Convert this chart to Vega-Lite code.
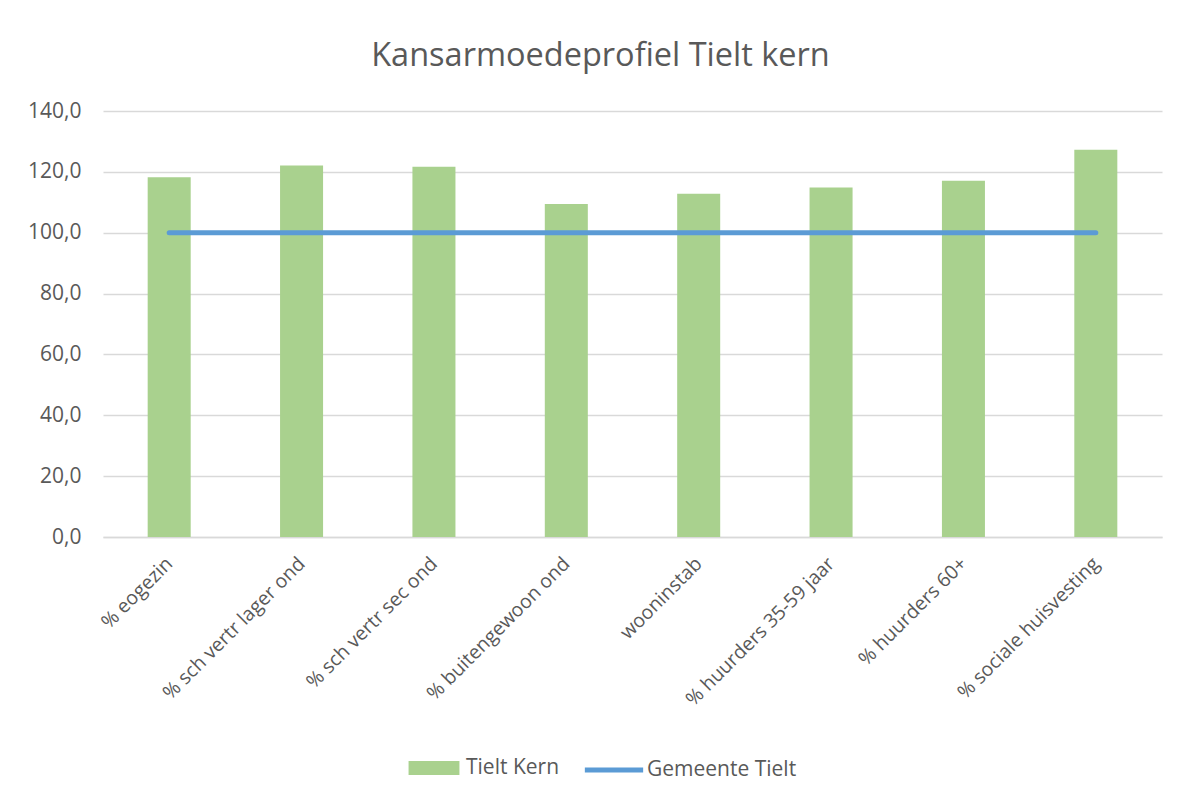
{
  "$schema": "https://vega.github.io/schema/vega-lite/v6.json",
  "autosize": "none",
  "width": 1059,
  "height": 426,
  "padding": {"left": 103, "top": 111, "right": 19, "bottom": 262},
  "background": "white",
  "title": {
    "text": "Kansarmoedeprofiel Tielt kern",
    "fontSize": 32.5,
    "font": "Open Sans",
    "fontWeight": "normal",
    "color": "#595959",
    "anchor": "middle",
    "dx": -32,
    "offset": 28
  },
  "data": {
    "values": [
      {"cat": "% eogezin", "kern": 118.2, "gemeente": 100},
      {"cat": "% sch vertr lager ond", "kern": 122.1, "gemeente": 100},
      {"cat": "% sch vertr sec ond", "kern": 121.7, "gemeente": 100},
      {"cat": "% buitengewoon ond", "kern": 109.4, "gemeente": 100},
      {"cat": "wooninstab", "kern": 112.8, "gemeente": 100},
      {"cat": "% huurders 35-59 jaar", "kern": 114.9, "gemeente": 100},
      {"cat": "% huurders 60+", "kern": 117.1, "gemeente": 100},
      {"cat": "% sociale huisvesting", "kern": 127.3, "gemeente": 100}
    ]
  },
  "config": {
    "font": "Open Sans",
    "view": {"stroke": null},
    "axis": {
      "labelFont": "Open Sans",
      "labelColor": "#595959",
      "title": null
    }
  },
  "encoding": {
    "x": {
      "field": "cat",
      "type": "nominal",
      "sort": null,
      "scale": {"paddingInner": 0.675, "paddingOuter": 0.3375},
      "axis": {
        "labelAngle": -45,
        "labelAlign": "right",
        "labelBaseline": "top",
        "labelPadding": 17,
        "labelOffset": -6,
        "labelFontSize": 19.5,
        "ticks": false,
        "domainColor": "#D9D9D9",
        "domainWidth": 1.5,
        "labelLimit": 400
      }
    }
  },
  "layer": [
    {
      "mark": {"type": "bar"},
      "encoding": {
        "y": {
          "field": "kern",
          "type": "quantitative",
          "scale": {"domain": [0, 140]},
          "axis": {
            "values": [0, 20, 40, 60, 80, 100, 120, 140],
            "labelExpr": "replace(format(datum.value, '.1f'), '.', ',')",
            "labelFontSize": 21,
            "ticks": false,
            "domain": false,
            "gridColor": "#D9D9D9",
            "gridWidth": 1.5,
            "labelPadding": 22
          }
        },
        "fill": {
          "datum": "Tielt Kern",
          "type": "nominal",
          "scale": {"range": ["#A9D18E"]},
          "legend": {
            "orient": "none",
            "legendX": 314,
            "legendY": 640,
            "title": null,
            "labelFontSize": 21,
            "labelColor": "#595959",
            "labelFont": "Open Sans",
            "symbolType": "M-1.5,-0.42H1.5V0.42H-1.5Z",
            "symbolSize": 1150,
            "symbolStrokeWidth": 0,
            "symbolOpacity": 1,
            "labelOffset": 15
          }
        }
      }
    },
    {
      "mark": {"type": "line", "strokeWidth": 5, "strokeCap": "round"},
      "encoding": {
        "y": {"field": "gemeente", "type": "quantitative"},
        "stroke": {
          "datum": "Gemeente Tielt",
          "type": "nominal",
          "scale": {"range": ["#5B9BD5"]},
          "legend": {
            "orient": "none",
            "legendX": 479,
            "legendY": 627,
            "title": null,
            "labelFontSize": 21,
            "labelColor": "#595959",
            "labelFont": "Open Sans",
            "symbolType": "stroke",
            "symbolSize": 3400,
            "symbolStrokeWidth": 5,
            "labelOffset": 1
          }
        }
      }
    }
  ]
}
